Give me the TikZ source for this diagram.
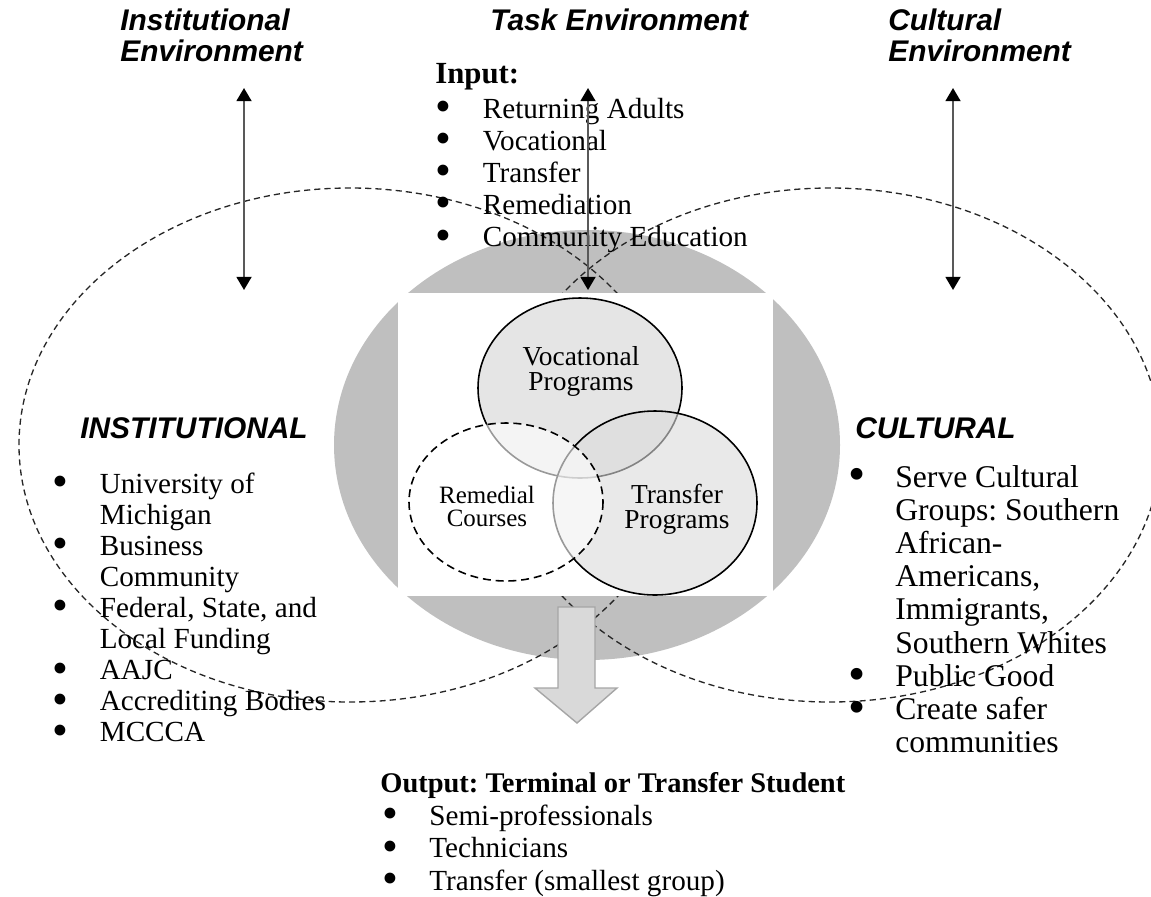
\documentclass[tikz,border=0pt]{standalone}
\usepackage{fontspec}
\setmainfont{Liberation Serif}
\setsansfont{Liberation Sans}
\usetikzlibrary{arrows.meta,positioning}

\definecolor{lensgray}{gray}{0.75}
\definecolor{venngray}{gray}{0.90}
\definecolor{overgray}{gray}{0.86}
\definecolor{shaftgray}{gray}{0.85}

\tikzset{
  envhead/.style={font=\sffamily\bfseries\itshape\fontsize{17}{18.1}\selectfont, inner sep=0pt, anchor=base west},
  bodytext/.style={font=\fontsize{16.6}{17.7}\selectfont, inner sep=0pt, anchor=base west},
  venntext/.style={font=\fontsize{15.6}{14.2}\selectfont, inner sep=0pt, anchor=base},
  envarrow/.style={draw=black!65, line width=1.2pt,
    {Triangle[width=8.5pt,length=7.5pt,color=black]}-{Triangle[width=8.5pt,length=7.5pt,color=black]}},
  outer/.style={draw=black!85, line width=0.75pt, dash pattern=on 3.5pt off 2.3pt},
}
\newcommand{\blt}{\smash{\raisebox{-0.12em}{\scalebox{1.55}{\textbullet}}}}
\frenchspacing

\begin{document}
\begin{tikzpicture}[x=0.02cm, y=-0.02cm]
\useasboundingbox (0,0) rectangle (1151,896);
% organisation in the middle
\fill [lensgray] (587,445) ellipse (253 and 215);
\draw [outer] (350,445) ellipse (331 and 257);
\draw [outer] (830,445) ellipse (331 and 257);
\fill [white] (398,293) rectangle (773,596);
% programs
\draw [line width=0.9pt, fill=venngray] (580,388) ellipse (102 and 90);
\draw [line width=0.9pt, fill=overgray, fill opacity=0.6] (655,503) ellipse (102 and 92);
\draw [line width=0.9pt, fill=white, fill opacity=0.6, dash pattern=on 4.5pt off 2.8pt] (506,502) ellipse (97 and 79);
\node [venntext] (vocLabel) at (581,365) {\begin{tabular}[t]{@{}c@{}}Vocational\\Programs\end{tabular}};
\node [venntext] (transLabel) at (677,503) {\begin{tabular}[t]{@{}c@{}}Transfer\\Programs\end{tabular}};
\node [venntext, font=\fontsize{14.2}{13.6}\selectfont] (remLabel) at (487,503) {\begin{tabular}[t]{@{}c@{}}Remedial\\Courses\end{tabular}};
% output arrow
\draw [draw=black!35, line width=0.8pt, fill=shaftgray] (558,607) -- (595,607) -- (595,688) -- (617,688)
  -- (577,723) -- (535,688) -- (558,688) -- cycle;

% environments
\node [envhead] (instHead) at (120,30) {\begin{tabular}[t]{@{}l@{}}Institutional\\Environment\end{tabular}};
\node [envhead] (taskHead) at (490,30) {Task Environment};
\node [envhead] (cultHead) at (888,30) {\begin{tabular}[t]{@{}l@{}}Cultural\\Environment\end{tabular}};

\node [bodytext, font=\bfseries\fontsize{17.5}{18}\selectfont] (inputTitle) at (435,83) {Input:};
\node [bodytext, font=\fontsize{16.6}{18.3}\selectfont] (inputList) at (435,118) {\begin{tabular}[t]{@{}p{0.95cm}@{}l@{}}
\blt & Returning Adults\\
\blt & Vocational\\
\blt & Transfer\\
\blt & Remediation\\
\blt & Community Education
\end{tabular}};

\node [envhead] (instTitle) at (80,438) {INSTITUTIONAL};
\node [bodytext] (instList) at (52,493) {\begin{tabular}[t]{@{}p{0.95cm}@{}l@{}}
\blt & University of\\
     & Michigan\\
\blt & Business\\
     & Community\\
\blt & Federal, State, and\\
     & Local Funding\\
\blt & AAJC\\
\blt & Accrediting Bodies\\
\blt & MCCCA
\end{tabular}};

\node [envhead] (cultTitle) at (855,438) {CULTURAL};
\node [bodytext, font=\fontsize{18}{18.9}\selectfont] (cultList) at (848,487) {\begin{tabular}[t]{@{}p{0.94cm}@{}l@{}}
\blt & Serve Cultural\\
     & Groups: Southern\\
     & African-\\
     & Americans,\\
     & Immigrants,\\
     & Southern Whites\\
\blt & Public Good\\
\blt & Create safer\\
     & communities
\end{tabular}};

\node [bodytext, font=\bfseries\fontsize{16.2}{18}\selectfont] (outputTitle) at (380,792) {Output: Terminal or Transfer Student};
\node [bodytext, font=\fontsize{16.6}{18.5}\selectfont] (outputList) at (382,825) {\begin{tabular}[t]{@{}p{0.94cm}@{}l@{}}
\blt & Semi-professionals\\
\blt & Technicians\\
\blt & Transfer (smallest group)
\end{tabular}};

% exchange with the environments
\coordinate (instTop) at (244,88);
\coordinate (instBot) at (244,290);
\coordinate (taskTop) at (588,88);
\coordinate (taskBot) at (588,290);
\coordinate (cultTop) at (953,88);
\coordinate (cultBot) at (953,290);
\draw [envarrow] (instTop) -- (instBot);
\draw [envarrow] (taskTop) -- (taskBot);
\draw [envarrow] (cultTop) -- (cultBot);
\end{tikzpicture}
\end{document}
